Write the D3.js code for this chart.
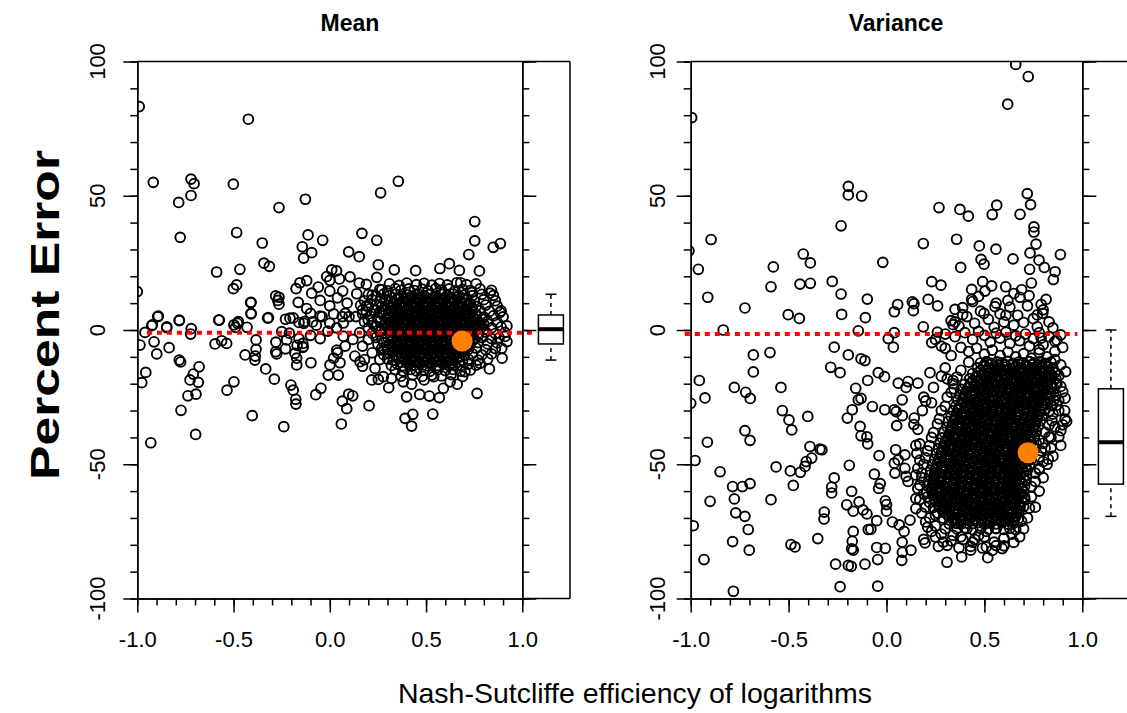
<!DOCTYPE html>
<html><head><meta charset="utf-8">
<script src="https://cdn.jsdelivr.net/npm/d3@7"></script>
<style>
body{margin:0;background:#fff}
svg{display:block}
text{font-family:"Liberation Sans",Arial,Helvetica,sans-serif;fill:#000}
</style>
</head><body>
<svg id="chart" width="1127" height="713"></svg>
<script>
// ---- labels ----
const panelTitles = ["Mean", "Variance"];
const xAxisTitle = "Nash-Sutcliffe efficiency of logarithms";
const yAxisTitle = "Percent Error";
const xTickValues = [-1, -0.5, 0, 0.5, 1];
const xTickLabels = ["-1.0", "-0.5", "0.0", "0.5", "1.0"];
const yTickValues = [-100, -50, 0, 50, 100];
const yTickLabels = ["-100", "-50", "0", "50", "100"];

// ---- Mean panel: [NSE of logs, percent error] per site ----
const meanPoints = [
[-0.99,83.2],[-0.423,78.5],[-0.917,55.0],[-0.721,56.2],[-0.705,54.5],[-0.501,54.3],[0.356,55.4],[0.264,51.1],[-0.785,47.5],[-0.721,50.1],[-0.264,45.6],[-0.127,48.7],[-0.777,34.5],[-0.484,36.3],[-0.351,32.4],[-0.113,35.4],[-0.143,31.0],[-0.136,26.8],[-0.094,28.8],[-0.037,33.4],[0.167,36.0],[0.244,33.4],[0.098,29.1],[0.153,27.3],[0.753,40.4],[0.753,33.2],[0.849,30.8],[0.886,32.2],[0.722,28.1],[0.777,22.0],[-0.588,21.6],[-0.467,22.6],[-0.342,24.9],[-0.314,23.7],[-0.501,15.4],[-0.484,16.8],[0.252,24.3],[0.244,19.6],[-0.281,12.7],[-0.264,12.2],[-0.409,10.3],[-0.264,9.6],[-0.409,6.0],[-0.319,4.6],[-0.894,5.0],[-0.782,3.7],[-0.574,3.7],[-1.0,14.3],[-0.925,1.6],[-0.847,1.2],[0.621,24.7],[0.673,22.2],[0.572,22.9],[0.446,22.1],[0.335,22.4],[0.680,17.6],[0.737,14.0],[0.832,13.7],[0.884,6.6],[0.92,1.5],
[-0.930,-42.0],[-0.697,-38.9],[-0.773,-29.9],[-0.403,-31.9],[-0.239,-36.0],[0.060,-35.0],[0.088,-29.3],[0.065,-26.5],[0.204,-28.2],[0.391,-32.9],[0.425,-35.8],[0.431,-31.4],[0.535,-31.3],[0.765,-23.6],[0.829,-14.5],[0.895,-10.5],[-0.176,-27.6],[-0.177,-25.8],[-0.190,-22.4],[-0.202,-20.5],[-0.073,-24.1],[-0.046,-21.7],[0.119,-24.5],[0.098,-23.9],[0.306,-21.5],[0.399,-24.9],[0.467,-24.0],[0.517,-24.6],[0.569,-25.2],[0.590,-21.7],[0.662,-20.2],[-0.534,-22.4],[-0.498,-19.3],[-0.737,-24.5],[-0.695,-23.9],[-0.726,-18.6],[-0.683,-19.5],[-0.709,-16.4],[-0.679,-13.7],[-0.977,-19.6],[-0.956,-15.8],[-0.782,-11.2],[-0.775,-11.9],[-0.835,-6.6],[-0.899,-8.9],[-0.913,-4.4],[-0.986,-5.6],[-0.960,-0.9],[-0.922,1.9],[-0.891,5.2],[-0.847,0.9],[-0.782,3.5],[-0.723,-1.5],[-0.577,3.7],[-0.596,-5.2],[-0.562,-4.0],[-0.536,-5.0],[-0.498,1.9],[-0.475,3.1],[-0.440,-9.3],[-0.387,-9.7],[-0.389,-11.2],[-0.383,-7.2],[-0.383,-3.7],[-0.333,-14.5],[-0.288,-18.3],[-0.409,6.2],[-0.323,4.4],[-0.281,-8.1],[-0.276,-8.9],[-0.224,-3.7],[-0.181,-8.7],[-0.172,-10.5],[-0.172,-13.0],[-0.098,-12.2],[-0.139,-6.2],[0.001,-13.0],[-0.008,-16.8],[0.044,-16.8],[0.053,-12.2],[0.036,-7.5],[0.157,-11.8],[0.17,-13.5],[0.235,-14.3],[0.218,-18.6],[0.252,-18.4],[0.278,-17.4],[0.321,-18.0],[0.382,-19.3],[0.425,-20.2],[0.49,-18.6],[0.54,-17.4],[0.625,-19.3],[0.702,-15.5],[0.78,-12.4],[0.893,-6.8],[0.92,-4.3],[0.91,-2.4],
[-0.411,10.2],[-0.27,11],[-0.207,4.4],[-0.16,2.8],[-0.13,3.2],[-0.10,6.2],[-0.05,5.2],[0.0,2.5],
[-0.175,15.4],[-0.155,17.6],[-0.12,18.4],[-0.164,10.3],[-0.12,8],[-0.094,13.7],[-0.06,16],[-0.016,19.9],[0.01,22.4],[0.035,22],[0.0,18.5],[0.05,19],[0.105,19.8],[0.153,17.5],[0.19,17],[0.067,14.5],[0.0,14.5],[-0.05,11],[0.0,9],[0.04,12],[0.09,10],[0.14,13.5],[0.19,9],[0.22,13],[0.27,15],[0.29,11],[0.17,6],[0.1,5],[0.065,5],[0.02,6],[-0.04,5],[-0.09,3],[-0.135,2.5],[-0.19,4.5],[-0.23,4],[-0.48,2.5],[-0.49,1],[-0.43,1],[-0.72,0.5],
[-0.25,-0.6],[-0.21,-1.2],[-0.16,-3.2],[-0.17,-5.7],[-0.14,-5],[-0.10,-2],[-0.05,-3.2],[-0.07,1.8],[-0.01,-0.4],[0.035,0.8],[0.07,2.6],[0.07,-2.3],[0.04,-8.5],[0.02,-10.5],[0.08,-6],[0.12,-3.5],[0.155,-1],[0.17,-6],[0.2,-3.5],[0.22,-8.5],[0.13,-9.7],[0.18,-11],[0.26,-11],[0.28,-7.2],[0.08,6.2],[0.135,5],[0.17,7.5],[0.2,3.7],[0.24,1.2],[0.27,6.2],[-0.14,-6.5],[-0.28,-4.5],[-0.23,-7],
[0.31,17.2],[0.36,16.6],[0.40,17.5],[0.45,16.9],[0.49,17.4],[0.53,16.7],[0.57,17.3],[0.61,16.8],[0.66,17.6],[0.71,16.9],[0.76,17.2],
[0.26,15.1],[0.30,14.6],[0.34,15.4],[0.37,14.8],[0.41,15.3],[0.44,14.7],[0.48,15.2],[0.51,14.6],[0.55,15.4],[0.58,14.9],[0.62,15.3],[0.65,14.6],[0.69,15.1],[0.73,14.7],[0.78,15.3],[0.84,14.8],
[0.20,13.2],[0.24,12.7],[0.28,13.4],[0.31,12.8],[0.34,13.3],[0.37,12.6],[0.40,13.1],[0.43,12.7],[0.46,13.4],[0.49,12.8],[0.52,13.2],[0.55,12.6],[0.58,13.3],[0.61,12.9],[0.64,13.4],[0.67,12.7],[0.70,13.1],[0.74,12.8],[0.79,13.3],[0.85,12.9],
[0.18,10.9],[0.22,11.3],[0.26,10.7],[0.29,11.2],[0.32,10.8],[0.35,11.4],[0.38,10.7],[0.41,11.1],[0.44,10.6],[0.47,11.3],[0.50,10.8],[0.53,11.2],[0.56,10.7],[0.59,11.3],[0.62,10.8],[0.65,11.2],[0.68,10.6],[0.71,11.1],[0.75,10.8],[0.80,11.3],[0.86,10.9],
[0.16,9.2],[0.20,8.7],[0.24,9.3],[0.27,8.8],[0.30,9.1],[0.33,8.6],[0.36,9.3],[0.39,8.8],[0.42,9.2],[0.45,8.7],[0.48,9.3],[0.51,8.9],[0.54,9.2],[0.57,8.6],[0.60,9.1],[0.63,8.8],[0.66,9.3],[0.69,8.7],[0.72,9.2],[0.76,8.8],[0.81,9.3],[0.87,8.9],
[0.19,6.8],[0.23,7.3],[0.26,6.7],[0.29,7.2],[0.32,6.9],[0.35,7.4],[0.38,6.8],[0.41,7.1],[0.44,6.7],[0.47,7.3],[0.50,6.8],[0.53,7.2],[0.56,6.6],[0.59,7.3],[0.62,6.9],[0.65,7.2],[0.68,6.7],[0.71,7.3],[0.74,6.8],[0.78,7.2],[0.83,6.9],[0.89,7.1],
[0.21,5.2],[0.25,4.7],[0.28,5.3],[0.31,4.8],[0.34,5.1],[0.37,4.6],[0.40,5.3],[0.43,4.8],[0.46,5.2],[0.49,4.7],[0.52,5.3],[0.55,4.9],[0.58,5.2],[0.61,4.6],[0.64,5.1],[0.67,4.8],[0.70,5.3],[0.73,4.7],[0.76,5.2],[0.80,4.8],[0.85,5.3],[0.90,4.9],
[0.18,3.1],[0.22,2.7],[0.26,3.3],[0.29,2.8],[0.32,3.2],[0.35,2.6],[0.38,3.1],[0.41,2.7],[0.44,3.3],[0.47,2.8],[0.50,3.2],[0.53,2.6],[0.56,3.3],[0.59,2.9],[0.62,3.2],[0.65,2.7],[0.68,3.3],[0.71,2.8],[0.74,3.1],[0.78,2.7],[0.82,3.2],[0.87,2.8],
[0.20,0.8],[0.24,1.3],[0.27,0.7],[0.30,1.2],[0.33,0.8],[0.36,1.3],[0.39,0.7],[0.42,1.1],[0.45,0.6],[0.48,1.3],[0.51,0.8],[0.54,1.2],[0.57,0.7],[0.60,1.3],[0.63,0.9],[0.66,1.2],[0.69,0.7],[0.72,1.3],[0.75,0.8],[0.79,1.2],[0.84,0.8],[0.89,1.1],
[0.22,-1.2],[0.26,-0.7],[0.29,-1.3],[0.32,-0.8],[0.35,-1.1],[0.38,-0.6],[0.41,-1.3],[0.44,-0.8],[0.47,-1.2],[0.50,-0.7],[0.53,-1.3],[0.56,-0.9],[0.59,-1.2],[0.62,-0.6],[0.65,-1.1],[0.68,-0.8],[0.71,-1.3],[0.74,-0.7],[0.77,-1.2],[0.81,-0.8],[0.86,-1.3],[0.91,-0.9],
[0.24,-2.8],[0.27,-3.3],[0.30,-2.7],[0.33,-3.2],[0.36,-2.9],[0.39,-3.4],[0.42,-2.8],[0.45,-3.1],[0.48,-2.7],[0.51,-3.3],[0.54,-2.8],[0.57,-3.2],[0.60,-2.6],[0.63,-3.3],[0.66,-2.9],[0.69,-3.2],[0.72,-2.7],[0.75,-3.3],[0.79,-2.8],[0.84,-3.2],[0.88,-2.9],
[0.25,-5.2],[0.28,-4.7],[0.31,-5.3],[0.34,-4.8],[0.37,-5.1],[0.40,-4.6],[0.43,-5.3],[0.46,-4.8],[0.49,-5.2],[0.52,-4.7],[0.55,-5.3],[0.58,-4.9],[0.61,-5.2],[0.64,-4.6],[0.67,-5.1],[0.70,-4.8],[0.73,-5.3],[0.77,-4.7],[0.82,-5.2],[0.87,-4.8],
[0.27,-6.8],[0.30,-7.3],[0.33,-6.7],[0.36,-7.2],[0.39,-6.9],[0.42,-7.4],[0.45,-6.8],[0.48,-7.1],[0.51,-6.7],[0.54,-7.3],[0.57,-6.8],[0.60,-7.2],[0.63,-6.6],[0.66,-7.3],[0.69,-6.9],[0.72,-7.2],[0.76,-6.7],[0.81,-7.3],[0.86,-6.9],
[0.28,-9.2],[0.31,-8.7],[0.34,-9.3],[0.37,-8.8],[0.40,-9.1],[0.43,-8.6],[0.46,-9.3],[0.49,-8.8],[0.52,-9.2],[0.55,-8.7],[0.58,-9.3],[0.61,-8.9],[0.64,-9.2],[0.67,-8.6],[0.70,-9.1],[0.74,-8.8],[0.79,-9.3],[0.84,-8.9],
[0.30,-10.8],[0.33,-11.3],[0.36,-10.7],[0.39,-11.2],[0.42,-10.9],[0.45,-11.4],[0.48,-10.8],[0.51,-11.1],[0.54,-10.7],[0.57,-11.3],[0.60,-10.8],[0.63,-11.2],[0.66,-10.6],[0.69,-11.3],[0.72,-10.9],[0.77,-11.2],[0.82,-10.8],
[0.32,-13.2],[0.35,-12.7],[0.38,-13.3],[0.41,-12.8],[0.44,-13.1],[0.47,-12.6],[0.50,-13.3],[0.53,-12.8],[0.56,-13.2],[0.59,-12.7],[0.62,-13.3],[0.65,-12.9],[0.68,-13.2],[0.72,-12.7],[0.76,-13.1],
[0.34,-14.8],[0.38,-15.3],[0.42,-14.7],[0.45,-15.2],[0.49,-14.9],[0.52,-15.4],[0.56,-14.8],[0.60,-15.1],[0.64,-14.7],[0.68,-15.3],[0.73,-14.9],
[0.37,-17.2],[0.43,-16.7],[0.48,-17.3],[0.53,-16.8],[0.58,-17.1],[0.63,-16.6],[0.69,-17.3],
[0.36,12.0],[0.39,11.8],[0.42,12.2],[0.45,11.9],[0.48,12.1],[0.51,11.7],[0.54,12.2],[0.57,11.9],[0.60,12.0],[0.63,11.8],[0.66,12.2],[0.69,11.9],
[0.33,10.0],[0.365,9.8],[0.395,10.2],[0.425,9.9],[0.455,10.1],[0.485,9.7],[0.515,10.2],[0.545,9.9],[0.575,10.0],[0.605,9.8],[0.635,10.2],[0.665,9.9],[0.695,10.1],[0.73,9.8],
[0.315,8.1],[0.345,7.8],[0.375,8.2],[0.405,7.9],[0.435,8.0],[0.465,7.7],[0.495,8.2],[0.525,7.9],[0.555,8.1],[0.585,7.8],[0.615,8.2],[0.645,7.9],[0.675,8.0],[0.705,7.8],[0.74,8.1],
[0.305,6.0],[0.335,5.8],[0.365,6.2],[0.395,5.9],[0.425,6.1],[0.455,5.7],[0.485,6.2],[0.515,5.9],[0.545,6.0],[0.575,5.8],[0.605,6.2],[0.635,5.9],[0.665,6.1],[0.695,5.8],[0.725,6.0],[0.76,5.9],
[0.30,4.0],[0.33,3.8],[0.36,4.2],[0.39,3.9],[0.42,4.1],[0.45,3.7],[0.48,4.2],[0.51,3.9],[0.54,4.0],[0.57,3.8],[0.60,4.2],[0.63,3.9],[0.66,4.1],[0.69,3.8],[0.72,4.0],[0.75,3.9],[0.79,4.1],
[0.305,2.0],[0.335,1.8],[0.365,2.2],[0.395,1.9],[0.425,2.1],[0.455,1.7],[0.485,2.2],[0.515,1.9],[0.545,2.0],[0.575,1.8],[0.605,2.2],[0.635,1.9],[0.665,2.1],[0.695,1.8],[0.725,2.0],[0.76,1.9],[0.80,2.1],
[0.31,0.1],[0.34,-0.2],[0.37,0.2],[0.40,-0.1],[0.43,0.1],[0.46,-0.3],[0.49,0.2],[0.52,-0.1],[0.55,0.0],[0.58,-0.2],[0.61,0.2],[0.64,-0.1],[0.67,0.1],[0.70,-0.2],[0.73,0.0],[0.76,-0.1],[0.80,0.1],
[0.315,-2.0],[0.345,-2.2],[0.375,-1.8],[0.405,-2.1],[0.435,-1.9],[0.465,-2.3],[0.495,-1.8],[0.525,-2.1],[0.555,-2.0],[0.585,-2.2],[0.615,-1.8],[0.645,-2.1],[0.675,-1.9],[0.705,-2.2],[0.735,-2.0],[0.77,-2.1],
[0.32,-4.0],[0.35,-4.2],[0.38,-3.8],[0.41,-4.1],[0.44,-3.9],[0.47,-4.3],[0.50,-3.8],[0.53,-4.1],[0.56,-4.0],[0.59,-4.2],[0.62,-3.8],[0.65,-4.1],[0.68,-3.9],[0.71,-4.2],[0.74,-4.0],
[0.325,-6.0],[0.355,-6.2],[0.385,-5.8],[0.415,-6.1],[0.445,-5.9],[0.475,-6.3],[0.505,-5.8],[0.535,-6.1],[0.565,-6.0],[0.595,-6.2],[0.625,-5.8],[0.655,-6.1],[0.685,-5.9],[0.72,-6.2],
[0.33,-8.0],[0.36,-8.2],[0.39,-7.8],[0.42,-8.1],[0.45,-7.9],[0.48,-8.3],[0.51,-7.8],[0.54,-8.1],[0.57,-8.0],[0.60,-8.2],[0.63,-7.8],[0.66,-8.1],[0.69,-7.9],
[0.345,-10.0],[0.375,-10.2],[0.405,-9.8],[0.435,-10.1],[0.465,-9.9],[0.495,-10.3],[0.525,-9.8],[0.555,-10.1],[0.585,-10.0],[0.615,-10.2],[0.645,-9.8],[0.675,-10.1],
[0.37,-12.0],[0.40,-12.2],[0.43,-11.8],[0.46,-12.1],[0.49,-11.9],[0.52,-12.3],[0.55,-11.8],[0.58,-12.1],[0.61,-12.0],[0.64,-12.2]
];

// ---- Variance panel: [NSE of logs, percent error] per site ----
const variancePoints = [
[0.660,98.9],[0.724,94.4],[0.619,84.1],[-0.995,79.1],[-0.195,53.5],[-0.195,50.3],[-0.127,49.9],[-0.232,38.8],[0.719,50.8],[0.736,46.7],[0.563,46.5],[0.540,43.0],[0.682,43.1],[0.268,45.6],[0.375,44.9],[0.418,42.4],[0.753,38.4],[0.753,36.5],[0.764,32.0],[0.358,33.8],[0.188,32.2],[0.474,31.3],[0.559,30.1],[0.733,28.7],[0.888,28.1],[0.779,26.0],[0.483,26.3],[0.498,24.5],[0.646,26.5],[0.731,22.6],[0.806,23.3],[0.861,21.7],[0.852,18.8],[0.379,23.3],[-0.019,25.2],[-0.896,33.7],[-0.961,22.6],[-0.913,12.2],[-1.009,29.5],[-0.425,28.3],[-0.389,25.0],[-0.578,23.5],[-0.590,16.1],[-0.442,17.1],[-0.389,17.4],[-0.277,18.1],[-0.232,13.4],[-0.098,11.5],[-0.229,5.8],[-0.108,4.6],[-0.723,8.2],[-0.502,5.7],[-0.445,4.3],[-0.834,0.0],[-0.144,-0.3],[0.231,18.0],[0.278,16.7],[0.491,18.0],[0.537,16.4],[0.503,14.5],[0.435,15.1],[0.435,11.4],[0.44,10.6],[0.609,16.1],[0.651,13.6],[0.682,12.2],[0.728,12.8],[0.815,11.4],[0.798,6.2],[0.77,5.6],[0.213,11.4],[0.261,9.0],[0.132,10.5],[0.14,9.8],[0.137,7.2],[0.040,6.8],[0.057,9.5],[0.350,7.7],[0.389,8.3],[0.389,5.7],[0.498,6.2],[0.554,8.7],[0.61,5.5],[0.35,3.0],[0.34,2.0],[0.188,1.2],[0.26,-0.8],[0.009,-3.2],[0.035,-6.4],[0.04,-1.0],[-0.267,-6.4],[-0.195,-9.3],[-0.13,-10.7],[-0.680,-9.3],[-0.595,-8.4],[0.231,-4.7],[0.3,-6.8],
[-0.782,-97.3],[-0.237,-95.6],[-0.045,-95.4],[-0.932,-85.5],[-0.786,-78.8],[-0.701,-82.0],[-0.706,-74.3],[-0.770,-68.1],[-0.723,-69.4],[-0.777,-62.9],[-0.901,-63.8],[-0.987,-72.9],[-0.786,-58.3],[-0.736,-58.3],[-0.697,-57.2],[-0.590,-63.2],[-0.488,-79.9],[-0.467,-80.8],[-0.351,-77.7],[-0.260,-87.2],[-0.195,-87.7],[-0.18,-88],[-0.110,-87.2],[-0.045,-85.5],[-0.178,-81.5],[-0.17,-82],[-0.175,-78.7],[-0.006,-81.3],[-0.05,-81],[0.078,-85.8],[0.081,-82.8],[0.125,-82.0],[0.197,-79.3],[0.265,-80.6],[0.309,-86.5],[0.384,-84.5],[0.43,-82],[0.517,-84.8],[0.51,-80.8],[0.56,-80.3],[0.591,-81.4],
[-1.0,-27.3],[-0.978,-48.6],[-0.956,-18.8],[-0.927,-25.3],[-0.915,-41.8],[-0.850,-52.8],[-0.777,-21.4],[-0.719,-23.2],[-0.696,-25.5],[-0.680,-15.6],[-0.723,-37.5],[-0.697,-41.1],[-0.539,-21.4],[-0.532,-30.0],[-0.498,-33.5],[-0.484,-37.2],[-0.402,-32.2],[-0.564,-51.0],[-0.491,-52.5],[-0.476,-57.9],[-0.44,-53],[-0.416,-50.8],[-0.41,-49],[-0.382,-47.7],[-0.391,-43.4],[-0.340,-44.4],[-0.33,-44.6],[-0.267,-55.1],[-0.28,-58.5],[-0.280,-60.7],[-0.318,-67.8],[-0.319,-70.4],[-0.190,-50.4],[-0.178,-60.1],[-0.203,-65.1],[-0.17,-67.5],[-0.170,-75.0],[-0.14,-64],[-0.12,-67],[-0.10,-68.5],[-0.093,-74.3],[-0.08,-74.2],[-0.05,-71],[-0.062,-53.7],[-0.285,-13.9],[-0.237,-15.9],[-0.110,-11.4],[-0.042,-15.9],[-0.01,-17.4],[-0.096,-18.8],[-0.157,-21.7],[-0.144,-26.0],[-0.13,-25.5],[-0.175,-29.7],[-0.200,-32.8],[-0.135,-35.9],[-0.130,-39.4],[-0.10,-39.8],[-0.096,-42.4],[-0.072,-28.5],[-0.009,-29.7],[0.04,-29.7],[0.081,-31.9],[0.052,-35.6],[-0.038,-46.8],[-0.032,-57.2],[-0.04,-59],[-0.006,-63.6],[0.0,-65],[0.0,-67.5],[0.043,-53.3],[0.04,-49.6],[0.06,-48.4],[0.094,-46.5],[0.094,-51.5],[0.10,-54.5],[0.11,-56.4],[0.142,-32.8],[0.183,-30.0],[0.20,-26.4],[0.23,-27.1],[0.19,-25],[0.222,-15.9],[0.24,-21.4],[0.28,-17.2],[0.30,-14.1],[0.31,-18.2],[0.34,-18.8],[0.345,-21.9],[0.060,-19.8],[0.11,-19.2],[0.16,-19.8],[0.10,-21.4],[0.08,-26],[0.05,-30.4],[0.047,-44.6],[0.14,-35.2],[0.16,-37],[0.17,-42.4],[0.15,-43],[0.155,-46],[0.17,-48.5],[0.16,-51.5],[0.15,-54],[0.16,-59],[0.15,-62.8],[0.15,-66.5],[0.12,-70.8],[0.065,-72.6],[0.03,-71.5],[0.09,-75],[0.08,-79],[0.19,-78],[0.23,-75],[0.20,-71.5],[0.25,-69],[0.30,-74],[0.34,-76.5],[0.29,-79],[0.39,-78],[0.44,-79],[0.47,-76.5],[0.41,-74],[0.36,-72],[0.51,-75],[0.56,-74],[0.59,-71.5],[0.656,-70.0],[0.67,-67],[0.707,-63.2],[0.74,-58.3],[0.76,-53.3],[0.78,-51.5],[0.826,-48.1],[0.85,-47],[0.84,-44],[0.81,-44],[0.78,-41],[0.83,-39.8],[0.88,-39.8],[0.89,-37.5],[0.845,-33.8],[0.912,-33.2],[0.92,-34],[0.90,-35.3],[0.88,-30],[0.912,-25.4],[0.89,-21],[0.915,-15.5],[0.89,-13],[0.86,-11],[0.87,-3.8],[0.79,-3],[0.78,-7.3],
[0.30,-1.5],[0.35,-2.5],[0.40,-1.0],[0.44,-3.5],[0.47,-0.5],[0.50,-2.0],[0.53,-4.5],[0.56,-1.2],[0.58,-3.0],[0.61,-0.8],[0.63,-5.0],[0.66,-2.2],[0.68,-4.0],[0.71,-1.5],[0.73,-6.0],[0.75,-3.2],[0.78,-1.0],[0.80,-5.5],[0.83,-2.5],[0.86,-4.2],[0.89,-1.8],[0.38,-6.5],[0.42,-8.0],[0.46,-6.8],[0.50,-9.0],[0.54,-7.5],[0.58,-9.5],[0.62,-8.2],[0.66,-10.0],[0.70,-8.8],[0.74,-10.5],[0.78,-8.5],[0.82,-10.0],[0.86,-8.0],[0.90,-6.5],[0.33,-9.5],[0.28,-6.0],[0.25,-3.5],
[0.33,3.5],[0.37,1.5],[0.41,5.0],[0.45,2.5],[0.48,7.0],[0.52,4.0],[0.55,1.0],[0.58,6.0],[0.60,3.0],[0.63,8.5],[0.65,1.8],[0.67,5.5],[0.70,2.8],[0.72,9.0],[0.75,4.2],[0.77,1.2],[0.80,7.5],[0.83,3.0],[0.85,0.8],[0.62,11.0],[0.56,10.0],[0.47,12.5],[0.69,15.0],[0.74,17.5],[0.79,9.5],
[0.88,-17],[0.90,-23],[0.87,-28],[0.91,-30],[0.86,-36],[0.84,-40],[0.89,-43],[0.82,-50],[0.80,-55],[0.78,-60],[0.76,-66],[0.72,-70],[0.70,-74],[0.68,-77],[0.79,-45],[0.80,-49],[0.78,-52],
[0.28,-76],[0.33,-78.5],[0.38,-77],[0.45,-78],[0.50,-77],[0.55,-79],[0.60,-77.5],[0.64,-76],[0.25,-73],[0.22,-70],[0.20,-66],[0.19,-61],[0.18,-55],[0.19,-50],[0.21,-45],[0.23,-40],[0.26,-35],[0.28,-30],[0.31,-25],[0.34,-20],[0.38,-15],[0.42,-12],
[0.36,-17.5],[0.33,-23.2],[0.30,-28.4],[0.27,-33.1],[0.24,-38.2],[0.22,-43.1],[0.20,-47.6],[0.18,-53.2],[0.17,-57.8],[0.17,-63.1],[0.18,-68.2],[0.21,-73.4],[0.25,-77.1],[0.31,-80.2],[0.37,-81.1],[0.43,-80.6],[0.49,-81.2],[0.54,-82.1],[0.60,-80.4],[0.65,-79.1],[0.66,-74.3],[0.69,-71.2],
[0.87,-20.1],[0.88,-26.2],[0.85,-31.3],[0.83,-35.4],[0.81,-38.1],[0.80,-42.2],[0.78,-47.3],[0.76,-56.4],[0.74,-62.1],[0.73,-66.3],
[0.48,-12.3],[0.51,-11.8],[0.535,-12.4],[0.565,-11.9],[0.59,-12.2],[0.62,-11.7],[0.645,-12.4],[0.675,-12.0],[0.70,-12.3],[0.73,-11.8],[0.755,-12.2],[0.785,-11.9],[0.81,-12.4],[0.84,-12.0],
[0.465,-14.1],[0.495,-13.7],[0.52,-14.3],[0.55,-13.9],[0.575,-14.2],[0.605,-13.8],[0.63,-14.3],[0.66,-13.9],[0.685,-14.1],[0.715,-13.7],[0.74,-14.3],[0.77,-13.8],[0.795,-14.2],[0.825,-13.9],[0.85,-14.1],
[0.44,-16.2],[0.47,-15.8],[0.495,-16.3],[0.525,-15.9],[0.55,-16.1],[0.58,-15.7],[0.605,-16.3],[0.635,-15.9],[0.66,-16.2],[0.69,-15.8],[0.715,-16.3],[0.745,-15.9],[0.77,-16.1],[0.80,-15.8],[0.83,-16.2],[0.86,-15.9],
[0.425,-18.1],[0.455,-17.7],[0.48,-18.3],[0.51,-17.9],[0.535,-18.2],[0.565,-17.8],[0.59,-18.3],[0.62,-17.9],[0.645,-18.1],[0.675,-17.7],[0.70,-18.3],[0.73,-17.9],[0.755,-18.2],[0.785,-17.8],[0.81,-18.3],[0.84,-17.9],[0.865,-18.1],
[0.40,-20.2],[0.43,-19.8],[0.455,-20.3],[0.485,-19.9],[0.51,-20.1],[0.54,-19.7],[0.565,-20.3],[0.595,-19.9],[0.62,-20.2],[0.65,-19.8],[0.675,-20.3],[0.705,-19.9],[0.73,-20.1],[0.76,-19.8],[0.785,-20.2],[0.815,-19.9],[0.84,-20.1],[0.865,-19.8],
[0.385,-22.1],[0.415,-21.7],[0.44,-22.3],[0.47,-21.9],[0.495,-22.2],[0.525,-21.8],[0.55,-22.3],[0.58,-21.9],[0.605,-22.1],[0.635,-21.7],[0.66,-22.3],[0.69,-21.9],[0.715,-22.2],[0.745,-21.8],[0.77,-22.3],[0.80,-21.9],[0.825,-22.1],[0.855,-21.8],
[0.375,-24.2],[0.40,-23.8],[0.43,-24.3],[0.455,-23.9],[0.485,-24.1],[0.51,-23.7],[0.54,-24.3],[0.565,-23.9],[0.595,-24.2],[0.62,-23.8],[0.65,-24.3],[0.675,-23.9],[0.705,-24.1],[0.73,-23.8],[0.76,-24.2],[0.785,-23.9],[0.815,-24.1],[0.84,-23.8],[0.865,-24.2],
[0.365,-26.1],[0.39,-25.7],[0.42,-26.3],[0.445,-25.9],[0.475,-26.2],[0.50,-25.8],[0.53,-26.3],[0.555,-25.9],[0.585,-26.1],[0.61,-25.7],[0.64,-26.3],[0.665,-25.9],[0.695,-26.2],[0.72,-25.8],[0.75,-26.3],[0.775,-25.9],[0.805,-26.1],[0.83,-25.8],[0.855,-26.2],
[0.355,-28.2],[0.38,-27.8],[0.41,-28.3],[0.435,-27.9],[0.465,-28.1],[0.49,-27.7],[0.52,-28.3],[0.545,-27.9],[0.575,-28.2],[0.60,-27.8],[0.63,-28.3],[0.655,-27.9],[0.685,-28.1],[0.71,-27.8],[0.74,-28.2],[0.765,-27.9],[0.795,-28.1],[0.82,-27.8],[0.845,-28.2],
[0.34,-30.1],[0.37,-29.7],[0.395,-30.3],[0.425,-29.9],[0.45,-30.2],[0.48,-29.8],[0.505,-30.3],[0.535,-29.9],[0.56,-30.1],[0.59,-29.7],[0.615,-30.3],[0.645,-29.9],[0.67,-30.2],[0.70,-29.8],[0.725,-30.3],[0.755,-29.9],[0.78,-30.1],[0.81,-29.8],[0.83,-30.2],
[0.33,-32.2],[0.355,-31.8],[0.385,-32.3],[0.41,-31.9],[0.44,-32.1],[0.465,-31.7],[0.495,-32.3],[0.52,-31.9],[0.55,-32.2],[0.575,-31.8],[0.605,-32.3],[0.63,-31.9],[0.66,-32.1],[0.685,-31.8],[0.715,-32.2],[0.74,-31.9],[0.77,-32.1],[0.795,-31.8],
[0.315,-34.1],[0.345,-33.7],[0.37,-34.3],[0.40,-33.9],[0.425,-34.2],[0.455,-33.8],[0.48,-34.3],[0.51,-33.9],[0.535,-34.1],[0.565,-33.7],[0.59,-34.3],[0.62,-33.9],[0.645,-34.2],[0.675,-33.8],[0.70,-34.3],[0.73,-33.9],[0.755,-34.1],[0.785,-33.8],
[0.31,-36.2],[0.335,-35.8],[0.365,-36.3],[0.39,-35.9],[0.42,-36.1],[0.445,-35.7],[0.475,-36.3],[0.50,-35.9],[0.53,-36.2],[0.555,-35.8],[0.585,-36.3],[0.61,-35.9],[0.64,-36.1],[0.665,-35.8],[0.695,-36.2],[0.72,-35.9],[0.75,-36.1],[0.775,-35.8],
[0.295,-38.1],[0.325,-37.7],[0.35,-38.3],[0.38,-37.9],[0.405,-38.2],[0.435,-37.8],[0.46,-38.3],[0.49,-37.9],[0.515,-38.1],[0.545,-37.7],[0.57,-38.3],[0.60,-37.9],[0.625,-38.2],[0.655,-37.8],[0.68,-38.3],[0.71,-37.9],[0.735,-38.1],[0.765,-37.8],
[0.285,-40.2],[0.315,-39.8],[0.34,-40.3],[0.37,-39.9],[0.395,-40.1],[0.425,-39.7],[0.45,-40.3],[0.48,-39.9],[0.505,-40.2],[0.535,-39.8],[0.56,-40.3],[0.59,-39.9],[0.615,-40.1],[0.645,-39.8],[0.67,-40.2],[0.70,-39.9],[0.725,-40.1],[0.755,-39.8],
[0.275,-42.1],[0.30,-41.7],[0.33,-42.3],[0.355,-41.9],[0.385,-42.2],[0.41,-41.8],[0.44,-42.3],[0.465,-41.9],[0.495,-42.1],[0.52,-41.7],[0.55,-42.3],[0.575,-41.9],[0.605,-42.2],[0.63,-41.8],[0.66,-42.3],[0.685,-41.9],[0.715,-42.1],[0.74,-41.8],[0.765,-42.2],
[0.265,-44.2],[0.29,-43.8],[0.32,-44.3],[0.345,-43.9],[0.375,-44.1],[0.40,-43.7],[0.43,-44.3],[0.455,-43.9],[0.485,-44.2],[0.51,-43.8],[0.54,-44.3],[0.565,-43.9],[0.595,-44.1],[0.62,-43.8],[0.65,-44.2],[0.675,-43.9],[0.705,-44.1],[0.73,-43.8],[0.755,-44.2],
[0.255,-46.1],[0.28,-45.7],[0.31,-46.3],[0.335,-45.9],[0.365,-46.2],[0.39,-45.8],[0.42,-46.3],[0.445,-45.9],[0.475,-46.1],[0.50,-45.7],[0.53,-46.3],[0.555,-45.9],[0.585,-46.2],[0.61,-45.8],[0.64,-46.3],[0.665,-45.9],[0.695,-46.1],[0.72,-45.8],[0.745,-46.2],
[0.245,-48.2],[0.27,-47.8],[0.30,-48.3],[0.325,-47.9],[0.355,-48.1],[0.38,-47.7],[0.41,-48.3],[0.435,-47.9],[0.465,-48.2],[0.49,-47.8],[0.52,-48.3],[0.545,-47.9],[0.575,-48.1],[0.60,-47.8],[0.63,-48.2],[0.655,-47.9],[0.685,-48.1],[0.71,-47.8],[0.74,-48.2],
[0.235,-50.1],[0.26,-49.7],[0.29,-50.3],[0.315,-49.9],[0.345,-50.2],[0.37,-49.8],[0.40,-50.3],[0.425,-49.9],[0.455,-50.1],[0.48,-49.7],[0.51,-50.3],[0.535,-49.9],[0.565,-50.2],[0.59,-49.8],[0.62,-50.3],[0.645,-49.9],[0.675,-50.1],[0.70,-49.8],[0.73,-50.2],
[0.225,-52.2],[0.25,-51.8],[0.28,-52.3],[0.305,-51.9],[0.335,-52.1],[0.36,-51.7],[0.39,-52.3],[0.415,-51.9],[0.445,-52.2],[0.47,-51.8],[0.50,-52.3],[0.525,-51.9],[0.555,-52.1],[0.58,-51.8],[0.61,-52.2],[0.635,-51.9],[0.665,-52.1],[0.69,-51.8],[0.72,-52.2],
[0.22,-54.1],[0.245,-53.7],[0.275,-54.3],[0.30,-53.9],[0.33,-54.2],[0.355,-53.8],[0.385,-54.3],[0.41,-53.9],[0.44,-54.1],[0.465,-53.7],[0.495,-54.3],[0.52,-53.9],[0.55,-54.2],[0.575,-53.8],[0.605,-54.3],[0.63,-53.9],[0.66,-54.1],[0.685,-53.8],[0.715,-54.2],
[0.215,-56.2],[0.24,-55.8],[0.27,-56.3],[0.295,-55.9],[0.325,-56.1],[0.35,-55.7],[0.38,-56.3],[0.405,-55.9],[0.435,-56.2],[0.46,-55.8],[0.49,-56.3],[0.515,-55.9],[0.545,-56.1],[0.57,-55.8],[0.60,-56.2],[0.625,-55.9],[0.655,-56.1],[0.68,-55.8],[0.71,-56.2],
[0.21,-58.1],[0.235,-57.7],[0.265,-58.3],[0.29,-57.9],[0.32,-58.2],[0.345,-57.8],[0.375,-58.3],[0.40,-57.9],[0.43,-58.1],[0.455,-57.7],[0.485,-58.3],[0.51,-57.9],[0.54,-58.2],[0.565,-57.8],[0.595,-58.3],[0.62,-57.9],[0.65,-58.1],[0.675,-57.8],[0.705,-58.2],
[0.205,-60.2],[0.23,-59.8],[0.26,-60.3],[0.285,-59.9],[0.315,-60.1],[0.34,-59.7],[0.37,-60.3],[0.395,-59.9],[0.425,-60.2],[0.45,-59.8],[0.48,-60.3],[0.505,-59.9],[0.535,-60.1],[0.56,-59.8],[0.59,-60.2],[0.615,-59.9],[0.645,-60.1],[0.67,-59.8],[0.70,-60.2],
[0.21,-62.1],[0.24,-61.7],[0.265,-62.3],[0.295,-61.9],[0.32,-62.2],[0.35,-61.8],[0.375,-62.3],[0.405,-61.9],[0.43,-62.1],[0.46,-61.7],[0.485,-62.3],[0.515,-61.9],[0.54,-62.2],[0.57,-61.8],[0.595,-62.3],[0.625,-61.9],[0.65,-62.1],[0.68,-61.8],[0.705,-62.2],
[0.22,-64.2],[0.25,-63.8],[0.275,-64.3],[0.305,-63.9],[0.33,-64.1],[0.36,-63.7],[0.385,-64.3],[0.415,-63.9],[0.44,-64.2],[0.47,-63.8],[0.495,-64.3],[0.525,-63.9],[0.55,-64.1],[0.58,-63.8],[0.605,-64.2],[0.635,-63.9],[0.66,-64.1],[0.69,-63.8],
[0.24,-66.1],[0.27,-65.7],[0.295,-66.3],[0.325,-65.9],[0.35,-66.2],[0.38,-65.8],[0.405,-66.3],[0.435,-65.9],[0.46,-66.1],[0.49,-65.7],[0.515,-66.3],[0.545,-65.9],[0.57,-66.2],[0.60,-65.8],[0.625,-66.3],[0.655,-65.9],[0.68,-66.1],[0.70,-65.8],
[0.26,-68.2],[0.29,-67.8],[0.315,-68.3],[0.345,-67.9],[0.37,-68.1],[0.40,-67.7],[0.425,-68.3],[0.455,-67.9],[0.48,-68.2],[0.51,-67.8],[0.535,-68.3],[0.565,-67.9],[0.59,-68.1],[0.62,-67.8],[0.645,-68.2],[0.675,-67.9],
[0.29,-70.1],[0.32,-69.7],[0.345,-70.3],[0.375,-69.9],[0.40,-70.2],[0.43,-69.8],[0.455,-70.3],[0.485,-69.9],[0.51,-70.1],[0.54,-69.7],[0.565,-70.3],[0.595,-69.9],[0.62,-70.2],[0.65,-69.8],[0.675,-70.1],
[0.32,-72.2],[0.35,-71.8],[0.38,-72.3],[0.41,-71.9],[0.44,-72.1],[0.47,-71.7],[0.50,-72.3],[0.53,-71.9],[0.56,-72.2],[0.59,-71.8],[0.62,-72.3],[0.65,-71.9],
[0.36,-74.1],[0.40,-73.7],[0.44,-74.3],[0.48,-73.9],[0.52,-74.2],[0.56,-73.8],[0.60,-74.3],[0.63,-73.9],
[0.50,-13.1],[0.535,-12.8],[0.57,-13.2],[0.605,-12.9],[0.64,-13.1],[0.675,-12.8],[0.71,-13.2],[0.745,-12.9],[0.78,-13.1],[0.815,-12.8],
[0.48,-15.0],[0.515,-15.2],[0.55,-14.8],[0.585,-15.1],[0.62,-14.9],[0.655,-15.3],[0.69,-14.8],[0.725,-15.1],[0.76,-14.9],[0.795,-15.2],[0.83,-15.0],
[0.46,-17.1],[0.495,-16.8],[0.53,-17.2],[0.565,-16.9],[0.60,-17.1],[0.635,-16.8],[0.67,-17.2],[0.705,-16.9],[0.74,-17.1],[0.775,-16.8],[0.81,-17.2],[0.845,-16.9],
[0.44,-19.0],[0.475,-19.2],[0.51,-18.8],[0.545,-19.1],[0.58,-18.9],[0.615,-19.3],[0.65,-18.8],[0.685,-19.1],[0.72,-18.9],[0.755,-19.2],[0.79,-19.0],[0.825,-18.8],
[0.42,-21.1],[0.455,-20.8],[0.49,-21.2],[0.525,-20.9],[0.56,-21.1],[0.595,-20.8],[0.63,-21.2],[0.665,-20.9],[0.70,-21.1],[0.735,-20.8],[0.77,-21.2],[0.805,-20.9],[0.84,-21.1],
[0.41,-23.0],[0.445,-23.2],[0.48,-22.8],[0.515,-23.1],[0.55,-22.9],[0.585,-23.3],[0.62,-22.8],[0.655,-23.1],[0.69,-22.9],[0.725,-23.2],[0.76,-23.0],[0.795,-22.8],[0.83,-23.1],
[0.40,-25.1],[0.435,-24.8],[0.47,-25.2],[0.505,-24.9],[0.54,-25.1],[0.575,-24.8],[0.61,-25.2],[0.645,-24.9],[0.68,-25.1],[0.715,-24.8],[0.75,-25.2],[0.785,-24.9],[0.82,-25.1],
[0.39,-27.0],[0.425,-27.2],[0.46,-26.8],[0.495,-27.1],[0.53,-26.9],[0.565,-27.3],[0.60,-26.8],[0.635,-27.1],[0.67,-26.9],[0.705,-27.2],[0.74,-27.0],[0.775,-26.8],[0.81,-27.1],
[0.37,-29.1],[0.405,-28.8],[0.44,-29.2],[0.475,-28.9],[0.51,-29.1],[0.545,-28.8],[0.58,-29.2],[0.615,-28.9],[0.65,-29.1],[0.685,-28.8],[0.72,-29.2],[0.755,-28.9],[0.79,-29.1],
[0.36,-31.0],[0.395,-31.2],[0.43,-30.8],[0.465,-31.1],[0.50,-30.9],[0.535,-31.3],[0.57,-30.8],[0.605,-31.1],[0.64,-30.9],[0.675,-31.2],[0.71,-31.0],[0.745,-30.8],[0.78,-31.1],
[0.35,-33.1],[0.385,-32.8],[0.42,-33.2],[0.455,-32.9],[0.49,-33.1],[0.525,-32.8],[0.56,-33.2],[0.595,-32.9],[0.63,-33.1],[0.665,-32.8],[0.70,-33.2],[0.735,-32.9],[0.77,-33.1],
[0.34,-35.0],[0.375,-35.2],[0.41,-34.8],[0.445,-35.1],[0.48,-34.9],[0.515,-35.3],[0.55,-34.8],[0.585,-35.1],[0.62,-34.9],[0.655,-35.2],[0.69,-35.0],[0.725,-34.8],[0.76,-35.1],
[0.33,-37.1],[0.365,-36.8],[0.40,-37.2],[0.435,-36.9],[0.47,-37.1],[0.505,-36.8],[0.54,-37.2],[0.575,-36.9],[0.61,-37.1],[0.645,-36.8],[0.68,-37.2],[0.715,-36.9],[0.75,-37.1],
[0.32,-39.0],[0.355,-39.2],[0.39,-38.8],[0.425,-39.1],[0.46,-38.9],[0.495,-39.3],[0.53,-38.8],[0.565,-39.1],[0.60,-38.9],[0.635,-39.2],[0.67,-39.0],[0.705,-38.8],[0.74,-39.1],
[0.31,-41.1],[0.345,-40.8],[0.38,-41.2],[0.415,-40.9],[0.45,-41.1],[0.485,-40.8],[0.52,-41.2],[0.555,-40.9],[0.59,-41.1],[0.625,-40.8],[0.66,-41.2],[0.695,-40.9],[0.73,-41.1],
[0.30,-43.0],[0.335,-43.2],[0.37,-42.8],[0.405,-43.1],[0.44,-42.9],[0.475,-43.3],[0.51,-42.8],[0.545,-43.1],[0.58,-42.9],[0.615,-43.2],[0.65,-43.0],[0.685,-42.8],[0.72,-43.1],
[0.29,-45.1],[0.325,-44.8],[0.36,-45.2],[0.395,-44.9],[0.43,-45.1],[0.465,-44.8],[0.50,-45.2],[0.535,-44.9],[0.57,-45.1],[0.605,-44.8],[0.64,-45.2],[0.675,-44.9],[0.71,-45.1],
[0.28,-47.0],[0.315,-47.2],[0.35,-46.8],[0.385,-47.1],[0.42,-46.9],[0.455,-47.3],[0.49,-46.8],[0.525,-47.1],[0.56,-46.9],[0.595,-47.2],[0.63,-47.0],[0.665,-46.8],[0.70,-47.1],
[0.27,-49.1],[0.305,-48.8],[0.34,-49.2],[0.375,-48.9],[0.41,-49.1],[0.445,-48.8],[0.48,-49.2],[0.515,-48.9],[0.55,-49.1],[0.585,-48.8],[0.62,-49.2],[0.655,-48.9],[0.69,-49.1],[0.72,-48.8],
[0.26,-51.0],[0.295,-51.2],[0.33,-50.8],[0.365,-51.1],[0.40,-50.9],[0.435,-51.3],[0.47,-50.8],[0.505,-51.1],[0.54,-50.9],[0.575,-51.2],[0.61,-51.0],[0.645,-50.8],[0.68,-51.1],[0.71,-50.9],
[0.25,-53.1],[0.285,-52.8],[0.32,-53.2],[0.355,-52.9],[0.39,-53.1],[0.425,-52.8],[0.46,-53.2],[0.495,-52.9],[0.53,-53.1],[0.565,-52.8],[0.60,-53.2],[0.635,-52.9],[0.67,-53.1],[0.70,-52.8],
[0.245,-55.0],[0.28,-55.2],[0.315,-54.8],[0.35,-55.1],[0.385,-54.9],[0.42,-55.3],[0.455,-54.8],[0.49,-55.1],[0.525,-54.9],[0.56,-55.2],[0.595,-55.0],[0.63,-54.8],[0.665,-55.1],[0.70,-54.9],
[0.24,-57.1],[0.275,-56.8],[0.31,-57.2],[0.345,-56.9],[0.38,-57.1],[0.415,-56.8],[0.45,-57.2],[0.485,-56.9],[0.52,-57.1],[0.555,-56.8],[0.59,-57.2],[0.625,-56.9],[0.66,-57.1],[0.69,-56.8],
[0.235,-59.0],[0.27,-59.2],[0.305,-58.8],[0.34,-59.1],[0.375,-58.9],[0.41,-59.3],[0.445,-58.8],[0.48,-59.1],[0.515,-58.9],[0.55,-59.2],[0.585,-59.0],[0.62,-58.8],[0.655,-59.1],[0.69,-58.9],
[0.235,-61.1],[0.27,-60.8],[0.305,-61.2],[0.34,-60.9],[0.375,-61.1],[0.41,-60.8],[0.445,-61.2],[0.48,-60.9],[0.515,-61.1],[0.55,-60.8],[0.585,-61.2],[0.62,-60.9],[0.655,-61.1],[0.685,-60.8],
[0.245,-63.0],[0.28,-63.2],[0.315,-62.8],[0.35,-63.1],[0.385,-62.9],[0.42,-63.3],[0.455,-62.8],[0.49,-63.1],[0.525,-62.9],[0.56,-63.2],[0.595,-63.0],[0.63,-62.8],[0.665,-63.1],
[0.265,-65.1],[0.30,-64.8],[0.335,-65.2],[0.37,-64.9],[0.405,-65.1],[0.44,-64.8],[0.475,-65.2],[0.51,-64.9],[0.545,-65.1],[0.58,-64.8],[0.615,-65.2],[0.65,-64.9],[0.68,-65.1],
[0.285,-67.0],[0.32,-67.2],[0.355,-66.8],[0.39,-67.1],[0.425,-66.9],[0.46,-67.3],[0.495,-66.8],[0.53,-67.1],[0.565,-66.9],[0.60,-67.2],[0.635,-67.0],[0.665,-66.8],
[0.315,-69.1],[0.35,-68.8],[0.385,-69.2],[0.42,-68.9],[0.455,-69.1],[0.49,-68.8],[0.525,-69.2],[0.56,-68.9],[0.595,-69.1],[0.63,-68.8],[0.66,-69.2],
[0.345,-71.0],[0.38,-71.2],[0.415,-70.8],[0.45,-71.1],[0.485,-70.9],[0.52,-71.3],[0.555,-70.8],[0.59,-71.1],[0.625,-70.9],[0.65,-71.2]
];

// highlighted site [NSE, percent error]
const meanHighlight = [0.687, -4.1];
const varianceHighlight = [0.723, -45.7];

// boxplot summaries: [lower whisker, Q1, median, Q3, upper whisker]
const meanBox = [-11.2, -5.2, 0.3, 5.6, 13.3];
const varianceBox = [-69.4, -57.4, -41.8, -21.9, 0];

// reference lines: [percent error, from NSE, to NSE]
const meanRefLine = [-1.0, -0.95, 1.07];
const varianceRefLine = [-1.5, -1.03, 0.975];

// ---- layout ----
const svg = d3.select("#chart");
svg.append("rect").attr("width", 1127).attr("height", 713).attr("fill", "#fff");

const yTop = 61.5, yBot = 598.5;
const font = '"Liberation Sans", Arial, Helvetica, sans-serif';
const panels = [
  {title: panelTitles[0], points: meanPoints, hi: meanHighlight, box: meanBox, ref: meanRefLine,
   x0: 137.3, x1: 522.3, right: 570, titleX: 350, yLabelX: 105},
  {title: panelTitles[1], points: variancePoints, hi: varianceHighlight, box: varianceBox, ref: varianceRefLine,
   x0: 690.7, x1: 1082.3, right: 1130, titleX: 896, yLabelX: 665}
];

const minorX = d3.range(-10, 11).map(i => i / 10);
const minorY = d3.range(-100, 101, 10);

function styleAxis(sel) {
  sel.selectAll("path, line").attr("stroke", "#000").attr("stroke-width", 1.5);
}

panels.forEach((p, i) => {
  const x = d3.scaleLinear().domain([-1, 1]).range([p.x0, p.x1]);
  const y = d3.scaleLinear().domain([-100, 100]).range([yBot, yTop]);
  const g = svg.append("g");

  g.append("clipPath").attr("id", "plotclip" + i)
    .append("rect").attr("x", p.x0).attr("y", yTop)
    .attr("width", p.x1 - p.x0).attr("height", yBot - yTop);

  // scatter of sites
  g.append("g").attr("clip-path", `url(#plotclip${i})`)
    .selectAll("circle").data(p.points).join("circle")
    .attr("cx", d => x(d[0])).attr("cy", d => y(d[1]))
    .attr("r", 4.9).attr("fill", "none")
    .attr("stroke", "#000").attr("stroke-width", 1.9);

  // dotted reference line
  g.append("line")
    .attr("x1", x(p.ref[1])).attr("x2", x(p.ref[2]))
    .attr("y1", y(p.ref[0])).attr("y2", y(p.ref[0]))
    .attr("stroke", "#ff0000").attr("stroke-width", 4)
    .attr("stroke-dasharray", "5,5");

  // highlighted site
  g.append("circle")
    .attr("cx", x(p.hi[0])).attr("cy", y(p.hi[1]))
    .attr("r", 10.5).attr("fill", "#ff8000");

  // bottom axis: minor then major ticks with labels
  g.append("g").attr("transform", `translate(0,${yBot})`)
    .call(d3.axisBottom(x).tickValues(minorX).tickSize(7).tickSizeOuter(0).tickFormat(""))
    .call(styleAxis);
  const bx = g.append("g").attr("transform", `translate(0,${yBot})`)
    .call(d3.axisBottom(x).tickValues(xTickValues).tickSize(14).tickSizeOuter(0)
      .tickPadding(19).tickFormat((d, k) => xTickLabels[k]))
    .call(styleAxis);
  bx.attr("font-size", 22).attr("font-family", font);
  bx.selectAll("text").attr("fill", "#000");

  // left axis
  g.append("g").attr("transform", `translate(${p.x0},0)`)
    .call(d3.axisLeft(y).tickValues(minorY).tickSize(7).tickSizeOuter(0).tickFormat(""))
    .call(styleAxis);
  g.append("g").attr("transform", `translate(${p.x0},0)`)
    .call(d3.axisLeft(y).tickValues(yTickValues).tickSize(14).tickSizeOuter(0).tickFormat(""))
    .call(styleAxis);
  g.append("g").selectAll("text").data(yTickValues).join("text")
    .attr("transform", d => `translate(${p.yLabelX},${y(d)}) rotate(-90)`)
    .attr("text-anchor", "middle").attr("font-size", 22)
    .text((d, k) => yTickLabels[k]);

  // axis shared with the boxplot column
  g.append("g").attr("transform", `translate(${p.x1},0)`)
    .call(d3.axisRight(y).tickValues(minorY).tickSize(7).tickSizeOuter(0).tickFormat(""))
    .call(styleAxis);
  g.append("g").attr("transform", `translate(${p.x1},0)`)
    .call(d3.axisRight(y).tickValues(yTickValues).tickSize(14).tickSizeOuter(0).tickFormat(""))
    .call(styleAxis);

  // frame
  const frame = g.append("g").attr("stroke", "#000").attr("stroke-width", 1.5);
  frame.append("line").attr("x1", p.x0).attr("x2", p.right).attr("y1", yTop).attr("y2", yTop);
  frame.append("line").attr("x1", p.x1).attr("x2", p.right).attr("y1", yBot).attr("y2", yBot);
  frame.append("line").attr("x1", p.right).attr("x2", p.right).attr("y1", yTop).attr("y2", yBot);

  // boxplot
  const cx = p.x1 + 0.6 * (p.right - p.x1), hw = 12.5, cap = 5.5;
  const b = p.box;
  const bg = g.append("g").attr("stroke", "#000").attr("stroke-width", 1.5);
  bg.append("line").attr("x1", cx).attr("x2", cx).attr("y1", y(b[0])).attr("y2", y(b[1])).attr("stroke-dasharray", "4,4");
  bg.append("line").attr("x1", cx).attr("x2", cx).attr("y1", y(b[3])).attr("y2", y(b[4])).attr("stroke-dasharray", "4,4");
  bg.append("line").attr("x1", cx - cap).attr("x2", cx + cap).attr("y1", y(b[0])).attr("y2", y(b[0]));
  bg.append("line").attr("x1", cx - cap).attr("x2", cx + cap).attr("y1", y(b[4])).attr("y2", y(b[4]));
  bg.append("rect").attr("x", cx - hw).attr("width", 2 * hw)
    .attr("y", y(b[3])).attr("height", y(b[1]) - y(b[3])).attr("fill", "#fff");
  bg.append("line").attr("x1", cx - hw).attr("x2", cx + hw).attr("y1", y(b[2])).attr("y2", y(b[2])).attr("stroke-width", 4);

  // panel title
  svg.append("text").attr("x", p.titleX).attr("y", 31)
    .attr("text-anchor", "middle").attr("font-size", 23).attr("font-weight", "bold")
    .text(p.title);
});

svg.append("text").attr("x", 635).attr("y", 703).attr("text-anchor", "middle")
  .attr("font-size", 28.5).text(xAxisTitle);

svg.append("text").attr("transform", "translate(59,315) rotate(-90)")
  .attr("text-anchor", "middle").attr("font-size", 41).attr("font-weight", "bold")
  .attr("textLength", 330).attr("lengthAdjust", "spacingAndGlyphs")
  .text(yAxisTitle);
</script>
</body></html>
